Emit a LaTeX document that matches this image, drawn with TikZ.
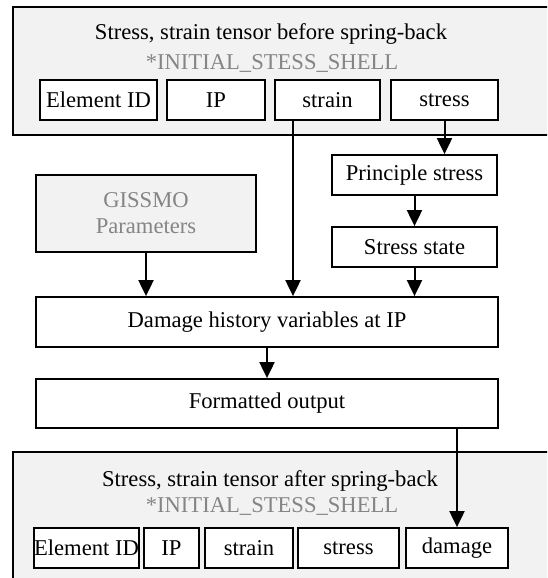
\documentclass[tikz,border=0pt]{standalone}
\usepackage{fontspec}
\setmainfont{Liberation Serif}
\usepackage{xcolor}
\usetikzlibrary{arrows.meta}
\definecolor{panelgrey}{HTML}{F2F2F2}
\definecolor{labelgrey}{HTML}{858585}
\tikzstyle{panel} = [draw=black, fill=panelgrey, line width=0.9pt]
\tikzstyle{cell} = [draw=black, fill=white, line width=0.9pt,
    rectangle, inner sep=0pt, minimum height=20pt]
\tikzstyle{keyword} = [text=labelgrey]
\tikzstyle{flow} = [draw=black, line width=1pt, -{Triangle[width=7.5pt,length=8pt]}]

\begin{document}
\begin{tikzpicture}[x=0.5pt, y=-0.5pt, font=\fontsize{11.3}{13}\selectfont]
\useasboundingbox (0,0) rectangle (547,578);
\clip (0,0) rectangle (547,578);
% tensor before spring-back
\draw[panel] (13,7) rectangle (560,135);
\node (titlein) at (271,34) {Stress, strain tensor before spring-back};
\node[keyword] (keyin) at (272,63) {*INITIAL\_STESS\_SHELL};
\node[cell, minimum width=58.5pt] (elemin) at (98.5,100) {Element ID};
\node[cell, minimum width=49pt] (ipin) at (216,100) {IP};
\node[cell, minimum width=52.5pt] (strainin) at (327.5,100) {strain};
\node[cell, minimum width=53.5pt] (stressin) at (444.5,100) {stress};
% processing
\node[cell, minimum width=82.5pt] (prin) at (414.5,175) {Principle stress};
\node[cell, minimum width=82.5pt] (state) at (414.5,247) {Stress state};
\node[cell, fill=panelgrey, keyword, minimum width=110pt, minimum height=38.5pt,
    align=center] (gissmo) at (146,213.5) {GISSMO\\Parameters};
\node[cell, minimum width=231pt, minimum height=25pt] (damage) at (267,322)
    {Damage history variables at IP};
\node[cell, minimum width=231pt, minimum height=24.5pt] (output) at (267,403.5)
    {Formatted output};
% tensor after spring-back
\draw[panel] (13,452) rectangle (560,590);
\node (titleout) at (270,481) {Stress, strain tensor after spring-back};
\node[keyword] (keyout) at (272,506) {*INITIAL\_STESS\_SHELL};
\node[cell, minimum width=50.5pt] (elemout) at (86.5,548) {Element ID};
\node[cell, minimum width=27.5pt] (ipout) at (171.5,548) {IP};
\node[cell, minimum width=44pt] (strainout) at (249,548) {strain};
\node[cell, minimum width=50.5pt] (stressout) at (348.5,548) {stress};
\node[cell, minimum width=51pt] (dmgout) at (457,548) {damage};
% connectors
\draw[flow] ([xshift=-17.25pt]strainin.south) -- ([xshift=-17.25pt]strainin.south |- damage.north);
\draw[flow] (stressin.south) -- (stressin.south |- prin.north);
\draw[flow] (prin) -- (state);
\draw[flow] (state.south) -- (state.south |- damage.north);
\draw[flow] (gissmo) -- (gissmo |- damage.north);
\draw[flow] (damage) -- (output);
\draw[flow] (dmgout.north |- output.south) -- (dmgout.north);
\end{tikzpicture}
\end{document}
